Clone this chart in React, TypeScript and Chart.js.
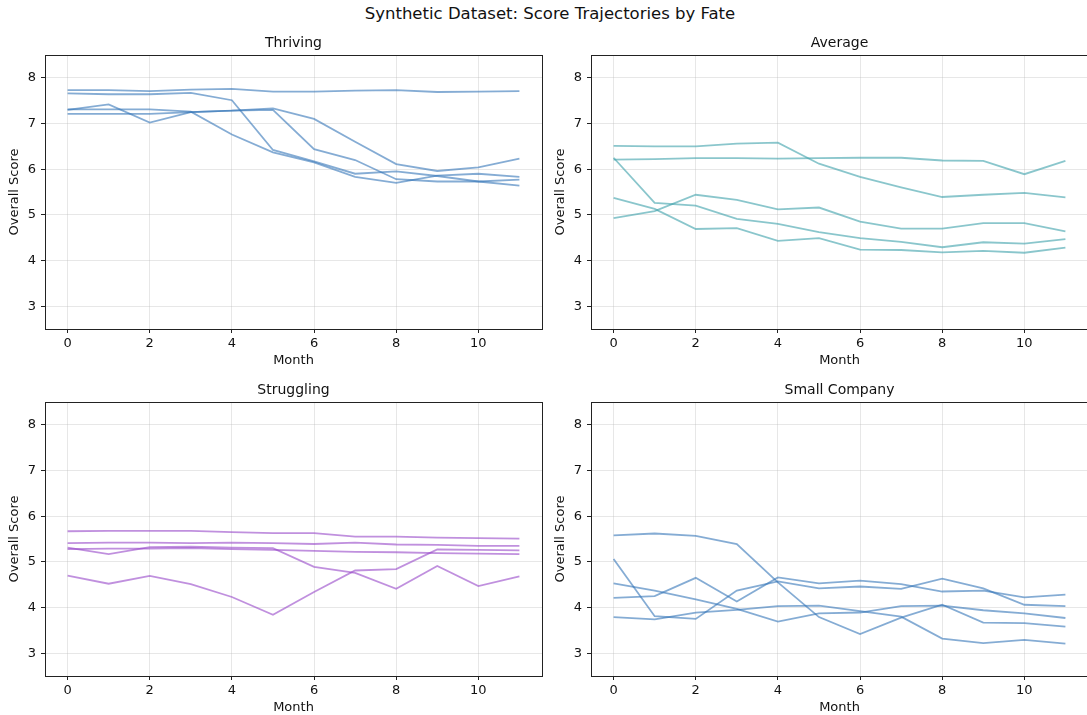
import React, { useEffect, useRef } from "react";
import { Chart, registerables } from "chart.js";

Chart.register(...registerables);

const months = [0, 1, 2, 3, 4, 5, 6, 7, 8, 9, 10, 11];
const xTicks = [0, 2, 4, 6, 8, 10];
const yTicks = [3, 4, 5, 6, 7, 8];

const thriving1 = [7.73, 7.73, 7.71, 7.74, 7.76, 7.70, 7.70, 7.72, 7.73, 7.69, 7.70, 7.71];
const thriving2 = [7.66, 7.64, 7.64, 7.67, 7.51, 6.42, 6.17, 5.90, 5.95, 5.85, 5.73, 5.64];
const thriving3 = [7.30, 7.42, 7.02, 7.25, 7.28, 7.30, 6.44, 6.20, 5.78, 5.73, 5.73, 5.77];
const thriving4 = [7.21, 7.21, 7.21, 7.25, 7.28, 7.33, 7.10, 6.60, 6.11, 5.96, 6.04, 6.23];
const thriving5 = [7.31, 7.31, 7.31, 7.26, 6.76, 6.37, 6.15, 5.83, 5.70, 5.86, 5.90, 5.83];

const average1 = [6.51, 6.50, 6.50, 6.56, 6.58, 6.12, 5.83, 5.60, 5.39, 5.44, 5.48, 5.38];
const average2 = [6.21, 6.22, 6.24, 6.24, 6.23, 6.24, 6.25, 6.25, 6.19, 6.18, 5.89, 6.18];
const average3 = [6.25, 5.26, 5.20, 4.91, 4.80, 4.62, 4.49, 4.41, 4.29, 4.40, 4.37, 4.47];
const average4 = [4.93, 5.08, 5.44, 5.33, 5.12, 5.16, 4.85, 4.70, 4.70, 4.82, 4.82, 4.64];
const average5 = [5.37, 5.13, 4.69, 4.71, 4.43, 4.49, 4.24, 4.23, 4.18, 4.21, 4.17, 4.28];

const struggling1 = [5.67, 5.68, 5.68, 5.68, 5.65, 5.63, 5.63, 5.55, 5.55, 5.53, 5.52, 5.51];
const struggling2 = [5.41, 5.42, 5.42, 5.41, 5.42, 5.41, 5.39, 5.42, 5.38, 5.37, 5.35, 5.35];
const struggling3 = [5.31, 5.17, 5.32, 5.33, 5.31, 5.30, 4.89, 4.76, 4.41, 4.91, 4.47, 4.68];
const struggling4 = [5.28, 5.29, 5.29, 5.30, 5.28, 5.26, 5.24, 5.22, 5.21, 5.19, 5.18, 5.17];
const struggling5 = [4.70, 4.52, 4.69, 4.51, 4.23, 3.84, 4.34, 4.81, 4.84, 5.27, 5.26, 5.25];

const small1 = [5.58, 5.62, 5.57, 5.39, 4.55, 3.79, 3.42, 3.78, 4.06, 3.67, 3.66, 3.58];
const small2 = [5.06, 3.81, 3.75, 4.37, 4.57, 4.42, 4.46, 4.41, 4.63, 4.42, 4.06, 4.03];
const small3 = [4.21, 4.25, 4.65, 4.13, 4.66, 4.53, 4.59, 4.51, 4.35, 4.37, 4.22, 4.28];
const small4 = [4.53, 4.37, 4.18, 3.97, 3.69, 3.87, 3.89, 4.03, 4.04, 3.94, 3.87, 3.77];
const small5 = [3.79, 3.74, 3.89, 3.95, 4.03, 4.04, 3.92, 3.80, 3.32, 3.22, 3.29, 3.21];

const FONT = "'DejaVu Sans', sans-serif";
const TEXT = "#111";
const GRID = "rgba(176,176,176,0.3)";
const SPINE = "#222";

const framePlugin = {
  id: "frame",
  afterDraw(chart: any) {
    const { ctx, chartArea } = chart;
    const { left, top, right, bottom } = chartArea;
    ctx.save();
    ctx.strokeStyle = SPINE;
    ctx.lineWidth = 1;
    ctx.strokeRect(Math.round(left) + 0.5, Math.round(top) + 0.5, Math.round(right - left), Math.round(bottom - top));
    ctx.restore();
  },
};

type PanelProps = {
  title: string;
  series: number[][];
  color: string;
  L: number;
  T: number;
  R: number;
  B: number;
};

function Panel({ title, series, color, L, T, R, B }: PanelProps) {
  const ref = useRef<HTMLCanvasElement>(null);
  const W = R - L + 50;
  const H = B - T + 25 + 39;
  useEffect(() => {
    const chart = new Chart(ref.current as HTMLCanvasElement, {
      type: "line",
      data: {
        datasets: series.map((s, i) => ({
          label: `${title} ${i + 1}`,
          data: months.map((m, j) => ({ x: m, y: s[j] })),
          borderColor: color,
          backgroundColor: color,
          borderWidth: 1.8,
          pointRadius: 0,
          fill: false,
          tension: 0,
        })),
      },
      options: {
        responsive: false,
        animation: false,
        devicePixelRatio: 1,
        layout: { padding: { left: 0, right: 5, top: 0, bottom: 0 } },
        plugins: {
          legend: { display: false },
          tooltip: { enabled: false },
          title: {
            display: true,
            fullSize: false,
            text: title,
            color: TEXT,
            font: { family: FONT, size: 14, weight: "normal", lineHeight: 1.2 },
            padding: { top: 4.6, bottom: 3.6 },
          },
        },
        scales: {
          x: {
            type: "linear",
            min: -0.55,
            max: 11.55,
            afterBuildTicks: (s: any) => {
              s.ticks = xTicks.map((v) => ({ value: v }));
            },
            afterFit: (s: any) => {
              s.height = 39;
            },
            grid: { color: GRID, lineWidth: 1, drawTicks: true, tickLength: 4, tickColor: SPINE, tickWidth: 1 },
            border: { display: false },
            ticks: { color: TEXT, font: { family: FONT, size: 13 }, padding: 3, maxRotation: 0, autoSkip: false },
            title: { display: true, text: "Month", color: TEXT, font: { family: FONT, size: 13 }, padding: { top: 0, bottom: 0 } },
          },
          y: {
            type: "linear",
            min: 2.5,
            max: 8.5,
            afterBuildTicks: (s: any) => {
              s.ticks = yTicks.map((v) => ({ value: v }));
            },
            afterFit: (s: any) => {
              s.width = 45;
            },
            grid: { color: GRID, lineWidth: 1, drawTicks: true, tickLength: 4, tickColor: SPINE, tickWidth: 1 },
            border: { display: false },
            ticks: { color: TEXT, font: { family: FONT, size: 13 }, padding: 5, autoSkip: false },
            title: { display: true, text: "Overall Score", color: TEXT, font: { family: FONT, size: 13 }, padding: { top: 7, bottom: 0 } },
          },
        },
      } as any,
      plugins: [framePlugin],
    });
    return () => chart.destroy();
  }, []);
  return (
    <canvas
      ref={ref}
      width={W}
      height={H}
      style={{ position: "absolute", left: L - 45, top: T - 25, width: W, height: H }}
    />
  );
}

export default function App() {
  return (
    <div
      style={{
        position: "fixed",
        left: 0,
        top: 0,
        width: 1087,
        height: 715,
        overflow: "hidden",
        background: "#fff",
      }}
    >
      <div
        style={{
          position: "absolute",
          left: 0,
          top: 4,
          width: 1100,
          textAlign: "center",
          fontFamily: FONT,
          fontSize: 16.5,
          lineHeight: "20px",
          color: TEXT,
        }}
      >
        Synthetic Dataset: Score Trajectories by Fate
      </div>
      <Panel
        title="Thriving"
        series={[thriving1, thriving2, thriving3, thriving4, thriving5]}
        color="rgba(52,116,183,0.6)"
        L={45}
        T={55}
        R={542}
        B={329}
      />
      <Panel
        title="Average"
        series={[average1, average2, average3, average4, average5]}
        color="rgba(60,160,170,0.6)"
        L={591}
        T={55}
        R={1088}
        B={329}
      />
      <Panel
        title="Struggling"
        series={[struggling1, struggling2, struggling3, struggling4, struggling5]}
        color="rgba(150,70,200,0.6)"
        L={45}
        T={402}
        R={542}
        B={676}
      />
      <Panel
        title="Small Company"
        series={[small1, small2, small3, small4, small5]}
        color="rgba(52,116,183,0.6)"
        L={591}
        T={402}
        R={1088}
        B={676}
      />
    </div>
  );
}
